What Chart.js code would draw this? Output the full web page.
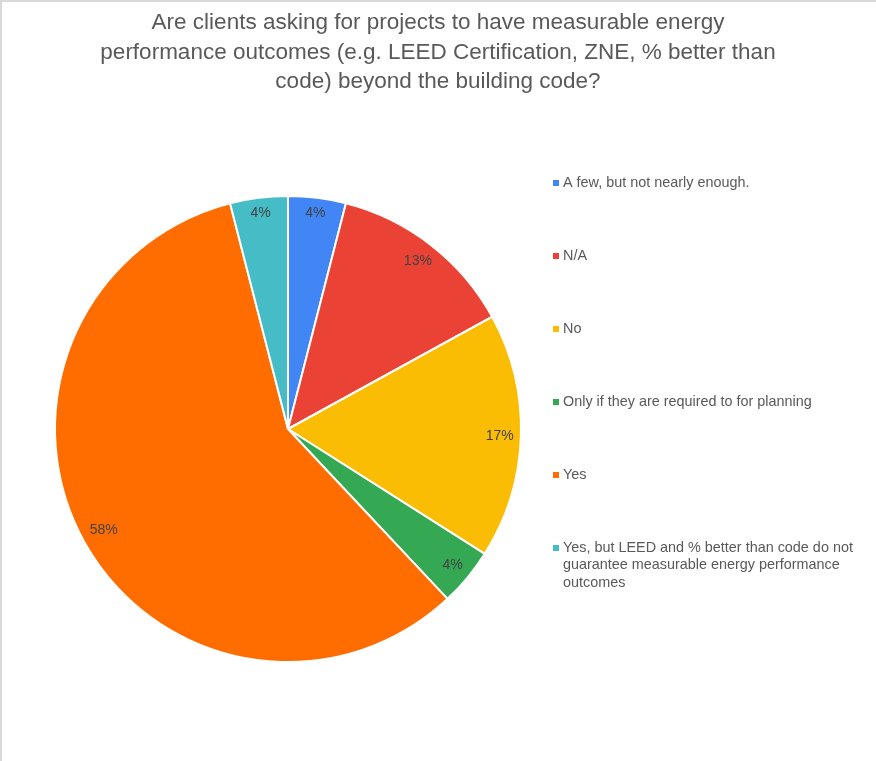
<!DOCTYPE html>
<html>
<head>
<meta charset="utf-8">
<script src="https://cdn.jsdelivr.net/npm/chart.js@4/dist/chart.umd.min.js"></script>
<style>
  html, body { margin: 0; padding: 0; background: #ffffff; }
  #wrap { position: relative; width: 876px; height: 761px; }
  canvas { display: block; }
</style>
</head>
<body>
<div id="wrap"><canvas id="pie" width="876" height="761"></canvas></div>
<script>
// Survey question shown above the pie
const question = [
  'Are clients asking for projects to have measurable energy',
  'performance outcomes (e.g. LEED Certification, ZNE, % better than',
  'code) beyond the building code?'
];

// Answer categories and their share of responses (percent)
const responses = [
  'A few, but not nearly enough.',
  'N/A',
  'No',
  'Only if they are required to for planning',
  'Yes',
  'Yes, but LEED and % better than code do not guarantee measurable energy performance outcomes'
];
const shares = [4, 13, 17, 4, 58, 4];

const sliceColors = ['#4285F4', '#EA4335', '#FBBC04', '#34A853', '#FF6D01', '#46BDC6'];

const FONT = '"Liberation Sans", Arial, sans-serif';

// White background, thin frame on the top and left edges, and the title
const framePlugin = {
  id: 'frameAndTitle',
  beforeDraw(chart) {
    const { ctx, width, height } = chart;
    ctx.save();
    ctx.fillStyle = '#ffffff';
    ctx.fillRect(0, 0, width, height);
    ctx.fillStyle = '#d9d9d9';
    ctx.fillRect(0, 0, width, 2);
    ctx.fillRect(0, 0, 2, height);
    ctx.restore();
  },
  afterDraw(chart) {
    const { ctx, width } = chart;
    ctx.save();
    ctx.font = '22.5px ' + FONT;
    ctx.fillStyle = '#595959';
    ctx.textAlign = 'center';
    ctx.textBaseline = 'middle';
    question.forEach((line, i) => ctx.fillText(line, width / 2, 23 + i * 29.3));
    ctx.restore();
  }
};

// Percentage labels kept just inside each slice's rim, with the text box fully inside
const sliceLabelPlugin = {
  id: 'sliceLabels',
  afterDatasetsDraw(chart) {
    const { ctx } = chart;
    const meta = chart.getDatasetMeta(0);
    const values = chart.data.datasets[0].data;
    const total = values.reduce((a, b) => a + b, 0);
    ctx.save();
    ctx.font = '14px ' + FONT;
    ctx.fillStyle = '#424242';
    ctx.textAlign = 'center';
    ctx.textBaseline = 'middle';
    meta.data.forEach((arc, i) => {
      const { x, y, startAngle, endAngle, outerRadius } = arc.getProps(['x', 'y', 'startAngle', 'endAngle', 'outerRadius'], true);
      const mid = (startAngle + endAngle) / 2;
      const pct = Math.round(values[i] / total * 100) + '%';
      const hw = ctx.measureText(pct).width / 2;
      const hh = 7;
      const cx = Math.cos(mid), sy = Math.sin(mid);
      const extent = hw * Math.abs(cx) + hh * Math.abs(sy);
      const r = outerRadius - 7 - extent;
      ctx.fillText(pct, x + cx * r, y + sy * r);
    });
    ctx.restore();
  }
};

// Legend on the right: small square marker, wrapped text
const sideLegendPlugin = {
  id: 'sideLegend',
  afterDraw(chart) {
    const { ctx } = chart;
    const labels = chart.data.labels;
    const colors = chart.data.datasets[0].backgroundColor;
    const x0 = 553, textX = 563, top = 183, step = 73, maxW = 300, lineH = 17.5;
    ctx.save();
    ctx.font = '14.4px ' + FONT;
    ctx.textBaseline = 'middle';
    ctx.textAlign = 'left';
    labels.forEach((label, i) => {
      const y = top + i * step;
      ctx.fillStyle = colors[i];
      ctx.fillRect(x0, y - 3, 6, 6);
      ctx.fillStyle = '#595959';
      const words = label.split(' ');
      const lines = [];
      let cur = '';
      words.forEach(w => {
        const test = cur ? cur + ' ' + w : w;
        if (ctx.measureText(test).width > maxW && cur) {
          lines.push(cur);
          cur = w;
        } else {
          cur = test;
        }
      });
      lines.push(cur);
      lines.forEach((ln, k) => ctx.fillText(ln, textX, y + k * lineH));
    });
    ctx.restore();
  }
};

new Chart(document.getElementById('pie'), {
  type: 'pie',
  data: {
    labels: responses,
    datasets: [{
      data: shares,
      backgroundColor: sliceColors,
      borderColor: '#ffffff',
      borderWidth: 2
    }]
  },
  options: {
    responsive: false,
    animation: false,
    layout: { padding: { top: 195, left: 54, right: 354, bottom: 98 } },
    plugins: {
      legend: { display: false },
      title: { display: false },
      tooltip: { enabled: false }
    }
  },
  plugins: [framePlugin, sliceLabelPlugin, sideLegendPlugin]
});
</script>
</body>
</html>
